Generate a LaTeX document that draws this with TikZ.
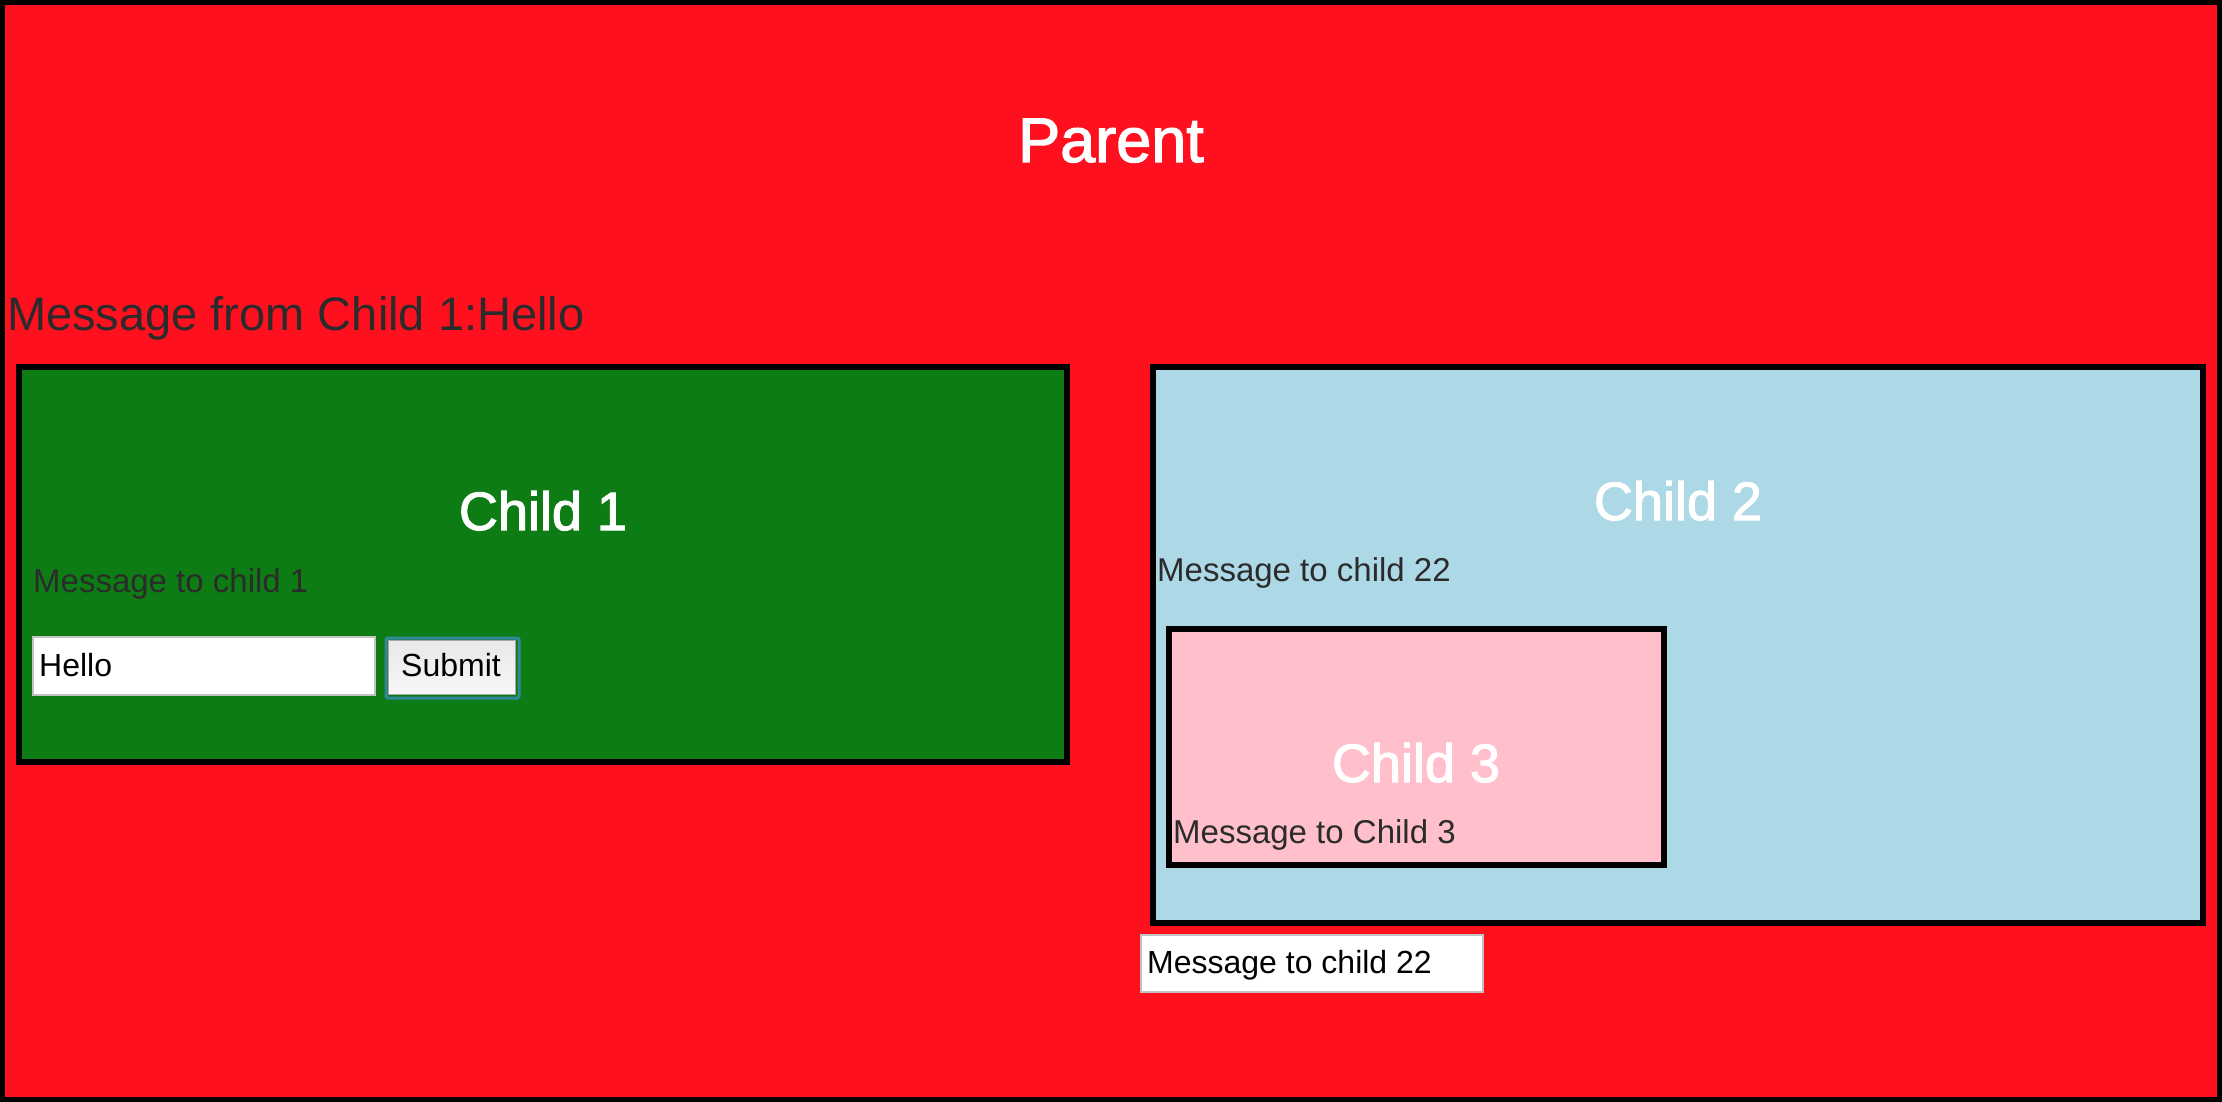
\documentclass[tikz,border=0pt]{standalone}
\usepackage{fontspec}
\setmainfont{Liberation Sans}
\newfontfamily\medfont[FakeBold=2]{Liberation Sans}
\definecolor{parentred}{HTML}{FF101E}
\definecolor{childgreen}{HTML}{0E7C14}
\definecolor{childblue}{HTML}{ADD8E6}
\definecolor{childpink}{HTML}{FFC0CB}
\definecolor{txtgray}{HTML}{2B2B2B}
\definecolor{inputborder}{HTML}{C2C2C2}
\definecolor{btnring}{HTML}{33879A}
\definecolor{btnborder}{HTML}{A8A8A8}
\begin{document}
\begin{tikzpicture}[x=1pt,y=-1pt,
  panel/.style={draw=black, line width=6pt, anchor=north west, inner sep=0pt, outer sep=0pt},
  title/.style={text=white, font=\medfont\fontsize{54}{60}\selectfont, anchor=base, inner sep=0pt},
  msg/.style={text=txtgray, font=\fontsize{33}{38}\selectfont, anchor=base west, inner sep=0pt},
  field/.style={draw=inputborder, fill=white, line width=1.5pt, anchor=north west, inner sep=0pt, outer sep=0pt},
  fieldtext/.style={text=black, font=\fontsize{32}{36}\selectfont, anchor=base west, inner sep=0pt}
]
\useasboundingbox (0,0) rectangle (2222,1102);
% parent
\node[panel, line width=5pt, fill=parentred, minimum width=2217pt, minimum height=1097pt] (parent) at (2.5,2.5) {};
\node[title, font=\medfont\fontsize{63}{70}\selectfont] (parenttitle) at (1111,162) {Parent};
\node[msg, font=\fontsize{47}{54}\selectfont] (frommsg) at (7,330) {Message from Child 1:Hello};
% child 1
\node[panel, fill=childgreen, minimum width=1048pt, minimum height=395pt] (child1) at (19,367) {};
\node[title] (child1title) at (543,530) {Child 1};
\node[msg] (msg1) at (33,592) {Message to child 1};
\node[field, minimum width=342pt, minimum height=58pt] (input1) at (33,637) {};
\node[fieldtext] (input1text) at (39,676) {Hello};
\node[draw=btnring, line width=3pt, rounded corners=1.5pt, anchor=north west, inner sep=0pt,
      minimum width=133pt, minimum height=60pt] (button) at (384.5,636.5) {};
\node[draw=btnborder, line width=1pt, top color=gray!18, bottom color=gray!6, anchor=north west, inner sep=0pt,
      minimum width=127pt, minimum height=54pt] (buttoninner) at (387.5,639.5) {};
\node[fieldtext, anchor=base] (buttontext) at (451,676) {Submit};
% child 2
\node[panel, fill=childblue, minimum width=1050pt, minimum height=556pt] (child2) at (1153,367) {};
\node[title] (child2title) at (1678,520) {Child 2};
\node[msg] (msg22) at (1157,581) {Message to child 22};
% child 3
\node[panel, fill=childpink, minimum width=495pt, minimum height=236pt] (child3) at (1169,629) {};
\node[title] (child3title) at (1416,782) {Child 3};
\node[msg] (msg3) at (1173,843) {Message to Child 3};
% bottom input
\node[field, minimum width=342pt, minimum height=57pt] (input2) at (1141,935) {};
\node[fieldtext] (input2text) at (1147,973) {Message to child 22};
\end{tikzpicture}
\end{document}
